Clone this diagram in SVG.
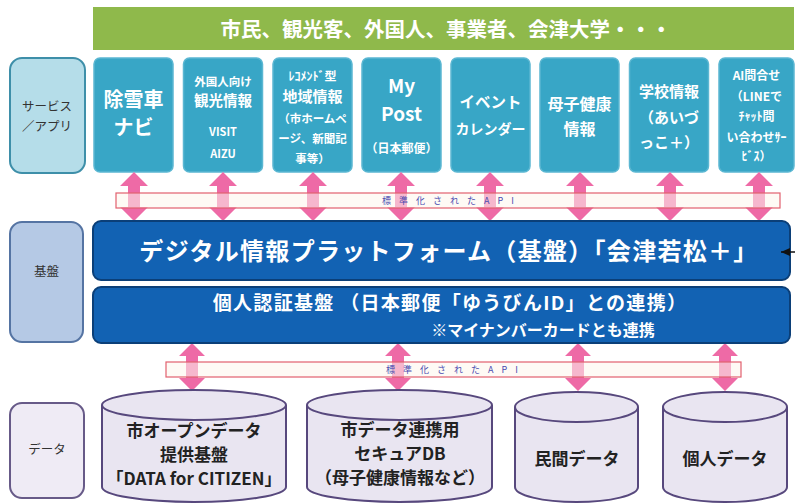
<svg xmlns="http://www.w3.org/2000/svg" width="795" height="504" viewBox="0 0 795 504">
<defs>
<style>
text{font-family:"Noto Sans CJK JP","Noto Sans",sans-serif;text-anchor:middle}
.svc rect{fill:#38a6c6;stroke:#5bb7d2;stroke-width:1.5}
.svc text{fill:#fff;font-weight:bold}
.lbl{stroke-width:2}
.lbltx{fill:#333;font-size:12.5px}
.bar{fill:#1262b3;stroke:#0b3f78;stroke-width:2}
.cyl{fill:#e9e5f1;stroke:#57487d;stroke-width:2}
.cyltx{fill:#222;font-size:17px;font-weight:bold}
.api{fill:#fdf6ec;fill-opacity:0.55;stroke:#e2606e;stroke-width:1.2}
.apitx{fill:#4b4bb0;font-size:9px;letter-spacing:8px}
.arr{fill:#ee6aa6}
</style>
<marker id="ah" markerWidth="9" markerHeight="8" refX="9" refY="4" orient="auto" markerUnits="userSpaceOnUse">
<path d="M0,0 L9,4 L0,8 Z" fill="#111"/>
</marker>
</defs>
<rect width="795" height="504" fill="#fff"/>

<g id="users">
<rect x="93" y="7" width="701" height="43" fill="#8fb94b"/>
<text x="446" y="37" font-size="20.5" font-weight="bold" fill="#fff">市民、観光客、外国人、事業者、会津大学・・・</text>
</g>

<g id="label-service">
<rect class="lbl" x="10" y="58" width="75" height="115" rx="12" fill="#b5dde9" stroke="#3e8fa9"/>
<text class="lbltx" x="47" y="111">サービス</text>
<text class="lbltx" x="47" y="131">／アプリ</text>
</g>

<g id="svc1" class="svc">
<rect x="94" y="58" width="79" height="114" rx="6"/>
<text x="133.5" y="107" font-size="20">除雪車</text>
<text x="133.5" y="135" font-size="20">ナビ</text>
</g>
<g id="svc2" class="svc">
<rect x="183.5" y="58" width="79" height="114" rx="6"/>
<text x="223" y="86" font-size="11.5">外国人向け</text>
<text x="223" y="106" font-size="14.5">観光情報</text>
<text x="223" y="136" font-size="11">VISIT</text>
<text x="223" y="158" font-size="11">AIZU</text>
</g>
<g id="svc3" class="svc">
<rect x="273" y="58" width="79" height="114" rx="6"/>
<text x="312.5" y="81" font-size="12">ﾚｺﾒﾝﾄﾞ型</text>
<text x="312.5" y="102" font-size="15">地域情報</text>
<text x="312.5" y="123" font-size="11.5">（市ホームペ</text>
<text x="312.5" y="143" font-size="11.5">ージ、新聞記</text>
<text x="312.5" y="163" font-size="11.5">事等）</text>
</g>
<g id="svc4" class="svc">
<rect x="362" y="58" width="79" height="114" rx="6"/>
<text x="401.5" y="93" font-size="19">My</text>
<text x="401.5" y="121" font-size="19">Post</text>
<text x="401.5" y="153" font-size="12">（日本郵便）</text>
</g>
<g id="svc5" class="svc">
<rect x="451" y="58" width="79" height="114" rx="6"/>
<text x="490.5" y="108" font-size="15.5">イベント</text>
<text x="490.5" y="134" font-size="14">カレンダー</text>
</g>
<g id="svc6" class="svc">
<rect x="540" y="58" width="79" height="114" rx="6"/>
<text x="579.5" y="110" font-size="16">母子健康</text>
<text x="579.5" y="135" font-size="16">情報</text>
</g>
<g id="svc7" class="svc">
<rect x="629.5" y="58" width="79" height="114" rx="6"/>
<text x="669" y="97" font-size="15">学校情報</text>
<text x="669" y="123" font-size="15">（あいづ</text>
<text x="669" y="148" font-size="15">っこ＋）</text>
</g>
<g id="svc8" class="svc">
<rect x="719" y="58" width="75" height="114" rx="6"/>
<text x="756.5" y="80" font-size="12">AI問合せ</text>
<text x="756.5" y="101" font-size="12">（LINEで</text>
<text x="756.5" y="121" font-size="12">ﾁｬｯﾄ問</text>
<text x="756.5" y="142" font-size="12">い合わせｻｰ</text>
<text x="756.5" y="161" font-size="12">ﾋﾞｽ）</text>
</g>

<g id="connectors">
<g class="arr">
<path d="M134,172 l14,14 h-8 v21 h8 l-14,14 l-14,-14 h8 v-21 h-8 Z"/>
<path d="M223,172 l14,14 h-8 v21 h8 l-14,14 l-14,-14 h8 v-21 h-8 Z"/>
<path d="M313,172 l14,14 h-8 v21 h8 l-14,14 l-14,-14 h8 v-21 h-8 Z"/>
<path d="M401,172 l14,14 h-8 v21 h8 l-14,14 l-14,-14 h8 v-21 h-8 Z"/>
<path d="M490,172 l14,14 h-8 v21 h8 l-14,14 l-14,-14 h8 v-21 h-8 Z"/>
<path d="M580,172 l14,14 h-8 v21 h8 l-14,14 l-14,-14 h8 v-21 h-8 Z"/>
<path d="M670,172 l14,14 h-8 v21 h8 l-14,14 l-14,-14 h8 v-21 h-8 Z"/>
<path d="M759,172 l14,14 h-8 v21 h8 l-14,14 l-14,-14 h8 v-21 h-8 Z"/>
<path d="M192,343 l13,13 h-7 v22 h7 l-13,13 l-13,-13 h7 v-22 h-7 Z"/>
<path d="M398,343 l13,13 h-7 v22 h7 l-13,13 l-13,-13 h7 v-22 h-7 Z"/>
<path d="M578,343 l13,13 h-7 v22 h7 l-13,13 l-13,-13 h7 v-22 h-7 Z"/>
<path d="M725,343 l13,13 h-7 v22 h7 l-13,13 l-13,-13 h7 v-22 h-7 Z"/>
</g>
<rect class="api" x="116" y="193" width="664" height="15"/>
<text class="apitx" x="452" y="204">標準化されたAPI</text>
<rect class="api" x="166" y="362" width="575" height="15"/>
<text class="apitx" x="456" y="373">標準化されたAPI</text>
</g>

<g id="label-base">
<rect class="lbl" x="10" y="222" width="73" height="120" rx="12" fill="#b5c9e5" stroke="#5574a3"/>
<text class="lbltx" x="46.5" y="276">基盤</text>
</g>

<g id="platform">
<rect class="bar" x="93" y="221" width="697" height="59" rx="8"/>
<text x="449" y="260" font-size="24" font-weight="bold" fill="#fff" letter-spacing="1.3">デジタル情報プラットフォーム（基盤）「会津若松＋」</text>
</g>
<g id="auth">
<rect class="bar" x="93" y="287" width="697" height="56" rx="8"/>
<text x="450" y="310" font-size="19" font-weight="bold" fill="#fff" letter-spacing="1.3">個人認証基盤 （日本郵便「ゆうびんID」との連携）</text>
<text x="543" y="336" font-size="16" font-weight="bold" fill="#fff">※マイナンバーカードとも連携</text>
</g>

<g id="ext-link">
<line x1="797" y1="252" x2="781" y2="252" stroke="#111" stroke-width="1.5" marker-end="url(#ah)"/>
</g>

<g id="label-data">
<rect class="lbl" x="10" y="403" width="74" height="95" rx="12" fill="#efebf5" stroke="#675a88"/>
<text class="lbltx" x="47" y="454">データ</text>
</g>

<g id="cyl1">
<path class="cyl" d="M102,405 v82 a92,15 0 0 0 184,0 v-82"/>
<ellipse class="cyl" cx="194" cy="405" rx="92" ry="15"/>
<text class="cyltx" x="194" y="437" font-size="16.5">市オープンデータ</text>
<text class="cyltx" x="194" y="461">提供基盤</text>
<text class="cyltx" x="194" y="485">「DATA for CITIZEN」</text>
</g>
<g id="cyl2">
<path class="cyl" d="M307,405 v82 a92.5,15 0 0 0 185,0 v-82"/>
<ellipse class="cyl" cx="399.5" cy="405" rx="92.5" ry="15"/>
<text class="cyltx" x="400" y="436" font-size="16">市データ連携用</text>
<text class="cyltx" x="400" y="460" font-size="15">セキュアDB</text>
<text class="cyltx" x="400" y="484" font-size="13.5">（母子健康情報など）</text>
</g>
<g id="cyl3">
<path class="cyl" d="M515,407 v80 a61.5,15 0 0 0 123,0 v-80"/>
<ellipse class="cyl" cx="576.5" cy="407" rx="61.5" ry="15"/>
<text class="cyltx" x="577" y="465" font-size="19">民間データ</text>
</g>
<g id="cyl4">
<path class="cyl" d="M663,407 v80 a62,15 0 0 0 124,0 v-80"/>
<ellipse class="cyl" cx="725" cy="407" rx="62" ry="15"/>
<text class="cyltx" x="725" y="465" font-size="19">個人データ</text>
</g>
</svg>
